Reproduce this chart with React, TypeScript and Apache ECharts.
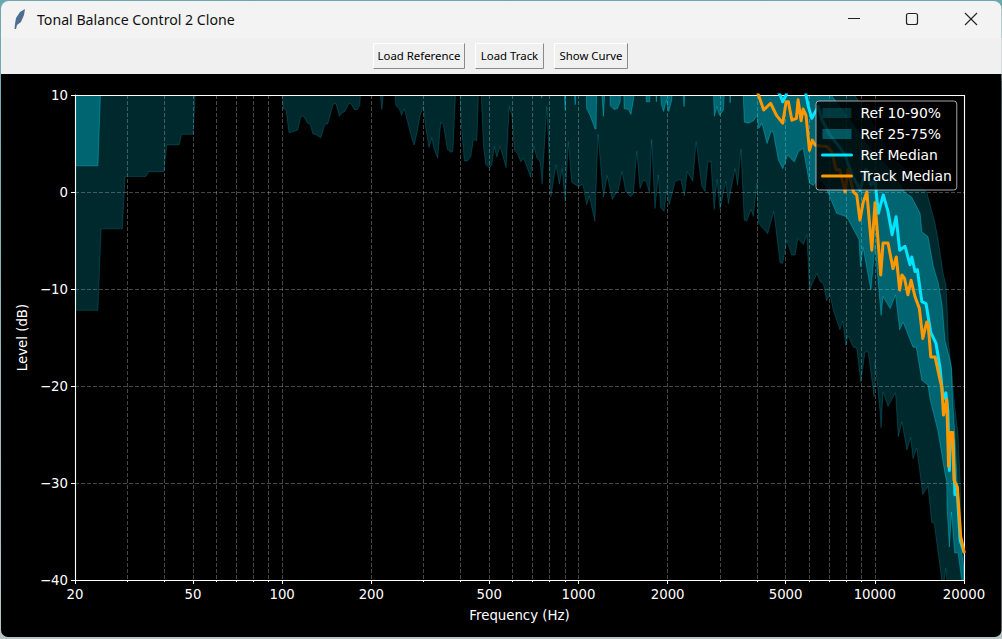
import React, { useEffect, useRef } from "react";
import * as echarts from "echarts";

type Pt = [number, number];

const majorTicks = [20, 50, 100, 200, 500, 1000, 2000, 5000, 10000, 20000];
const gridFreqs = [20, 30, 40, 50, 60, 70, 80, 90, 100, 200, 300, 400, 500, 600, 700, 800, 900, 1000, 2000, 3000, 4000, 5000, 6000, 7000, 8000, 9000, 10000, 20000];
const buttonLabels = ["Load Reference", "Load Track", "Show Curve"];

// Hz, dB. Values above the plot's top are read as "off the chart".
const ref10: Pt[] = [[20,-12.2],[23.9,-12.2],[24.5,-3.8],[28.9,-3.8],[29.5,1.6],[34.7,1.6],[35.5,2.1],[39.9,2.1],[40.8,4.85],[44.9,4.85],[45.8,5.95],[50.1,5.95],[51.2,12],[99.7,12],
[100.7,8.6],[103,8.5],[105.5,6.1],[108.8,6.2],[112.8,6.4],[115.8,7.8],[118.1,7.8],[121.8,7.1],[124.4,7],[126.9,6],[130.2,5.9],[135,5.6],[139.6,7],[142.5,7],[148.9,9.1],[152,9.1],[156,7.8],[160.2,8.2],[163,8.3],[167.6,9.1],[170.7,9.1],[175,8.5],[179.5,8.5],[183,9],[185,12],[211,12],[217,8.5],[222.5,12],[237,12],[242,8.9],[248.4,8.6],[253,7.9],[258.4,8.6],[266.7,6.9],[274,5.5],[279,4.85],[285,6.05],[292.3,7.9],[299.6,8.8],[305,6.7],[313,4.6],[320,5.6],[325,4.5],[335,3.5],[343,7.2],[350,6.9],[361,4.4],[370.5,4.1],[377,4.2],[387,12],[396,12],[402,7.1],[412,3.2],[422,3.2],[433,3.6],[442,5.4],[454,5.3],[462,12],[467,12],[478,4.7],[487,2.8],[501,2.5],[510,2.8],[520,4.7],[530,3.6],[544,4.7],[558,3.5],[570,2.5],[584,8.8],[596,7.9],[608,4.3],[622,4],[639,3.1],[653,3.5],[690,1.5],[707,4.7],[724,3.5],[743,3.1],[754,0.8],[782,8.8],[807,-0.5],[840,2.8],[862,0.8],[881,2.4],[902,-1],[924,5.2],[949,1],[1000,0.55],[1034,0.8],[1066,-1.3],[1088,-0.4],[1136,-3],[1164,5.95],[1214,-0.55],[1250,1.7],[1300,-0.75],[1363,0.2],[1403,2.1],[1444,0.05],[1501,-0.5],[1533,-0.15],[1574,4.2],[1613,0.4],[1656,1.2],[1692,1.1],[1738,-0.15],[1765,5.4],[1812,-1.7],[1860,1.75],[1895,-1.6],[1945,-2],[1987,0.2],[2025,-1.3],[2120,1.1],[2215,1.3],[2277,-0.4],[2330,2.1],[2431,1.1],[2496,5.2],[2608,0.55],[2675,0.05],[2731,3],[2795,3.2],[2870,-1.8],[2935,1.3],[3005,-1.8],[3140,1.1],[3205,-1.2],[3375,2.4],[3445,0.7],[3535,4.4],[3625,-2.9],[3700,-3],[3820,-1.8],[3895,-2.5],[4000,0.9],[4050,-3.2],[4350,-4.3],[4560,-2],[4790,-7.3],[4890,-7.35],[5045,-5],[5245,-6.5],[5385,-6.5],[5500,-4.8],[5740,-5.4],[5900,-4.4],[6015,-10.1],[6375,-8.4],[6540,-9.25],[6700,-9.4],[6880,-11.2],[7053,-10.6],[7248,-12.2],[7623,-14.2],[7798,-13.3],[7980,-15.8],[8118,-14.8],[8468,-16],[8690,-16.1],[8970,-19.6],[9272,-16.5],[9500,-16.5],[9945,-21.1],[10020,-17.5],[10410,-22.5],[10500,-24.3],[10660,-20.6],[11080,-22.1],[11750,-20.7],[12000,-25.2],[12340,-23.7],[12840,-26.6],[13220,-25.3],[13460,-27.5],[13850,-26.4],[14520,-31.2],[15117,-30.3],[15570,-34.1],[15850,-34.1],[17000,-41],[17360,-38.8],[17630,-41],[20000,-41]];

const ref90: Pt[] = [[20,14],[8470,14],[8470,10.2],[9700,7.4],[11270,3.8],[13200,1.75],[15000,-0.1],[15960,-3.2],[16350,-4.9],[17000,-8.35],[17380,-9.6],[17530,-11.6],[17700,-15.3],[18100,-18.1],[18600,-22],[19100,-25],[19400,-29.7],[19600,-35.2],[20000,-38]];

const ref25: Pt[] = [[20,2.7],[23.9,2.7],[24.5,12],[745,12],[752,9.7],[757,12],[889,12],[902,8.45],[909,12],[959,12],[975,9],[989,12],[1056,12],[1066,8.6],[1094,7.9],[1138,6.5],[1147,6.5],[1153,12],[1188,12],[1214,7.8],[1236,12],[1269,12],[1281,8.9],[1318,8.5],[1353,8.6],[1383,9.3],[1389,12],[1418,12],[1426,8.6],[1475,8.5],[1503,8],[1536,9.65],[1545,12],[1677,12],[1694,9.3],[1740,9.3],[1749,12],[1807,12],[1832,9.3],[1850,12],[1875,12],[1905,9],[1938,8.3],[1979,9.5],[2016,8.3],[2065,9.5],[2094,12],[2232,12],[2272,8.8],[2308,12],[2840,12],[2875,7.8],[2930,8.8],[2990,7.9],[3085,8.45],[3130,12],[3210,12],[3250,9.2],[3290,12],[3575,12],[3630,7.2],[3750,7.1],[3900,7.35],[4000,7.9],[4060,6.55],[4160,7.1],[4330,5],[4470,6.3],[4550,6.05],[4730,3.3],[4890,2.4],[5080,3.8],[5350,3.1],[5520,4.15],[5730,4.5],[6020,0.9],[6210,0.7],[6380,1.2],[6540,1.5],[6790,0.7],[7050,-0.5],[7430,-2.2],[8040,-2.55],[8600,-4.2],[8840,-4.9],[8950,-7.7],[9130,-5.7],[9700,-10.1],[10020,-5.5],[10500,-12.7],[10660,-10.8],[11270,-12],[11750,-10.6],[12130,-14.2],[12460,-13.4],[13460,-16],[13800,-16],[14410,-19.4],[15120,-19.9],[15370,-21.4],[16350,-24.7],[17250,-29],[17490,-29.9],[17530,-32.4],[17850,-36.6],[18150,-33],[18600,-37.2],[19100,-37.2],[19650,-40],[20000,-41]];

const ref75: Pt[] = [[20,14],[7050,14],[7050,10.2],[8230,7.4],[9700,4.3],[11270,2.3],[12660,-0.1],[13300,-0.5],[14220,-2.2],[14410,-4.1],[15120,-4.6],[15770,-7.7],[16380,-9.4],[16860,-11.6],[17250,-15.3],[17760,-16.8],[18150,-18.1],[18300,-21.4],[18600,-24.8],[18950,-29.7],[19300,-35.2],[20000,-39]];

const refMedian: Pt[] = [[4680,10.5],[4790,10],[4890,9.3],[5020,10],[5100,11],[5800,11],[5860,10],[5970,8.8],[6130,7.6],[6440,8.8],[6640,7.4],[7050,5.9],[7510,4.85],[7940,3.8],[8380,1.75],[8910,0.2],[9330,2.3],[9720,0.7],[10020,1.2],[10280,-2.2],[10680,-0.3],[11080,-2],[11440,-4.4],[11800,-2.55],[12130,-6],[12650,-5.6],[13150,-7.5],[13330,-6.7],[13670,-8.2],[13920,-8],[14410,-11.3],[14890,-11.5],[15450,-14.5],[16090,-15.6],[16610,-18.2],[17000,-21.4],[17360,-20.7],[17630,-22.5],[17850,-28.7],[18050,-25],[18370,-25.6],[18640,-31.2],[19000,-31.2],[19410,-35.9],[20000,-37.1]];

const trackMedian: Pt[] = [[4000,10.5],[4050,10],[4220,8.45],[4450,9.15],[4660,7.9],[4890,7.1],[5020,9.3],[5110,9.3],[5250,7.4],[5440,7.6],[5510,9.5],[5640,7.35],[5730,8.55],[5860,7.9],[6020,4.3],[6150,5.35],[6290,4.85],[6540,4.75],[6880,4.7],[7160,4.15],[7400,2.3],[7620,2.3],[7940,0],[8120,2.3],[8470,0],[8690,-0.3],[8910,-2.9],[9130,-1.1],[9400,0],[9770,-6],[10020,-1.1],[10470,-8.55],[10660,-5.25],[11080,-5.25],[11520,-7.9],[11820,-6.7],[12130,-10.1],[12350,-8.55],[12600,-8.9],[12930,-10.6],[13260,-9.1],[13670,-10.8],[14140,-12],[14520,-15.1],[14970,-13.4],[15120,-13.5],[15450,-17],[15980,-17],[16610,-19.4],[16830,-20.1],[17050,-23],[17490,-21.4],[17740,-28.3],[17970,-24.8],[18330,-24.8],[18510,-29.7],[18990,-30.4],[19490,-35.5],[20000,-37.1]];

const CYAN = "#00e5ff";
const ORANGE = "#ff9800";
const UI_FONT = "'Noto Sans'";
const PLOT_FONT = "'DejaVu Sans'";

function band(name: string, lower: Pt[], upper: Pt[], color: string) {
  const pts = [...lower, ...[...upper].reverse()];
  return {
    type: "custom",
    name,
    clip: true,
    silent: true,
    itemStyle: { color },
    encode: { x: 0, y: 1 },
    data: pts,
    renderItem: (params: any, api: any) => {
      if (params.dataIndex !== 0) return null;
      return {
        type: "polygon",
        shape: { points: pts.map((p) => api.coord(p)) },
        style: { fill: color, stroke: color, lineWidth: 1 },
      };
    },
  };
}

function line(name: string, data: Pt[], color: string) {
  return {
    type: "line",
    name,
    data,
    symbol: "none",
    clip: true,
    silent: true,
    itemStyle: { color },
    lineStyle: { color, width: 3, join: "round", cap: "round" },
  };
}

function button(x: number, w: number, label: string) {
  const y = 43, h = 26;
  return [
    { type: "rect", z: -1, shape: { x, y, width: w, height: h }, style: { fill: "#f0f0f0" } },
    { type: "polyline", z: -1, shape: { points: [[x + 0.5, y + h - 0.5], [x + 0.5, y + 0.5], [x + w - 0.5, y + 0.5]] }, style: { stroke: "#ffffff", fill: "none", lineWidth: 1 } },
    { type: "polyline", z: -1, shape: { points: [[x + 0.5, y + h - 0.5], [x + w - 0.5, y + h - 0.5], [x + w - 0.5, y + 0.5]] }, style: { stroke: "#8a8a8a", fill: "none", lineWidth: 1 } },
    { type: "text", z: -1, x: x + w / 2, y: y + h / 2 - 1, style: { text: label, fill: "#000", font: `11.4px ${UI_FONT}`, align: "center", verticalAlign: "middle" } },
  ];
}

const chrome: any[] = [
  { type: "rect", z: -3, shape: { x: 0, y: 0, width: 1002, height: 639 }, style: { fill: new echarts.graphic.LinearGradient(0, 0, 0, 1, [{ offset: 0, color: "#6aa8ae" }, { offset: 1, color: "#b9c4c4" }]) } },
  { type: "rect", z: -2, shape: { x: 1, y: 1, width: 1000.5, height: 80, r: [8, 8, 0, 0] }, style: { fill: "#f3f3f3" } },
  { type: "rect", z: -2, shape: { x: 1, y: 38, width: 1000.5, height: 40 }, style: { fill: "#f0f0f0" } },
  { type: "rect", z: -2, shape: { x: 1, y: 74, width: 1000.5, height: 563, r: [0, 0, 7, 7] }, style: { fill: "#000" } },
  { type: "polygon", z: -1, shape: { points: [[25, 9], [20, 12], [16, 18], [15, 24], [14.5, 29], [16, 29], [17, 25], [21, 22], [24, 15]] }, style: { fill: "#4f6d8f" } },
  { type: "text", z: -1, x: 37, y: 19.5, style: { text: "Tonal Balance Control 2 Clone", fill: "#111", font: `14.15px ${UI_FONT}`, verticalAlign: "middle" } },
  { type: "line", z: -1, shape: { x1: 848, y1: 18.5, x2: 860, y2: 18.5 }, style: { stroke: "#222", lineWidth: 1 } },
  { type: "rect", z: -1, shape: { x: 906.5, y: 13.5, width: 11, height: 11, r: 2 }, style: { fill: "none", stroke: "#222", lineWidth: 1.2 } },
  { type: "line", z: -1, shape: { x1: 965, y1: 13, x2: 977, y2: 25 }, style: { stroke: "#222", lineWidth: 1.1 } },
  { type: "line", z: -1, shape: { x1: 977, y1: 13, x2: 965, y2: 25 }, style: { stroke: "#222", lineWidth: 1.1 } },
  ...button(373, 92, buttonLabels[0]),
  ...button(475, 69, buttonLabels[1]),
  ...button(554, 74, buttonLabels[2]),
  { type: "rect", z: 3, silent: true, shape: { x: 75.5, y: 95.5, width: 889, height: 485 }, style: { fill: "none", stroke: "#fff", lineWidth: 1.1 } },
];

export default function App() {
  const ref = useRef<HTMLDivElement>(null);
  useEffect(() => {
    document.body.style.margin = "0";
    const chart = echarts.init(ref.current!, undefined, { renderer: "svg" });
    const dash = { color: "rgba(255,255,255,0.28)", type: [4, 2] as any, width: 1 };
    chart.setOption({
      animation: false,
      graphic: { elements: chrome },
      grid: { left: 75, top: 95, width: 889, height: 485, show: false },
      legend: {
        left: 816, top: 101, orient: "vertical", padding: [5, 5, 7, 5], itemWidth: 29, itemHeight: 10, itemGap: 7,
        backgroundColor: "rgba(0,0,0,0.8)", borderColor: "rgba(204,204,204,0.8)", borderWidth: 1, borderRadius: 3,
        textStyle: { color: "#fff", fontFamily: PLOT_FONT, fontSize: 13.9, padding: [0, 0, 0, 4] },
        selectedMode: false,
        lineStyle: { width: 3 },
        data: [
          { name: "Ref 10-90%", icon: "rect" },
          { name: "Ref 25-75%", icon: "rect" },
          { name: "Ref Median", itemStyle: { opacity: 0 } },
          { name: "Track Median", itemStyle: { opacity: 0 } },
        ],
      },
      xAxis: [
        {
          type: "log", logBase: 10, min: 20, max: 20000, position: "bottom",
          name: "Frequency (Hz)", nameLocation: "middle", nameGap: 29,
          nameTextStyle: { color: "#fff", fontFamily: PLOT_FONT, fontSize: 13.3 },
          axisLine: { onZero: false, lineStyle: { color: "#fff", width: 1 } },
          axisTick: { show: true, length: 4, lineStyle: { color: "#fff" }, customValues: majorTicks },
          axisLabel: { color: "#fff", fontFamily: PLOT_FONT, fontSize: 13.3, margin: 8, customValues: majorTicks, formatter: (v: number) => String(Math.round(v)) },
          splitLine: { show: false },
          minorTick: { show: false },
        },
        {
          type: "log", logBase: 10, min: 20, max: 20000, position: "bottom",
          axisLine: { show: false, onZero: false },
          axisTick: { show: true, length: 2, lineStyle: { color: "#fff" }, customValues: gridFreqs },
          axisLabel: { show: false },
          splitLine: { show: true, lineStyle: dash },
        },
      ],
      yAxis: {
        type: "value", min: -40, max: 10, interval: 10,
        name: "Level (dB)", nameLocation: "middle", nameGap: 46,
        nameTextStyle: { color: "#fff", fontFamily: PLOT_FONT, fontSize: 13.3 },
        axisLine: { show: true, lineStyle: { color: "#fff" } },
        axisTick: { show: true, length: 4, lineStyle: { color: "#fff" } },
        axisLabel: { color: "#fff", fontFamily: PLOT_FONT, fontSize: 13.3, margin: 7, formatter: (v: number) => String(v).replace("-", "\u2212") },
        splitLine: { show: true, lineStyle: dash },
      },
      series: [
        band("Ref 10-90%", ref10, ref90, "rgba(0,229,255,0.18)"),
        band("Ref 25-75%", ref25, ref75, "rgba(0,229,255,0.32)"),
        line("Ref Median", refMedian, CYAN),
        line("Track Median", trackMedian, ORANGE),
      ],
    });
    return () => chart.dispose();
  }, []);
  return <div ref={ref} style={{ width: 1002, height: 639 }} />;
}
